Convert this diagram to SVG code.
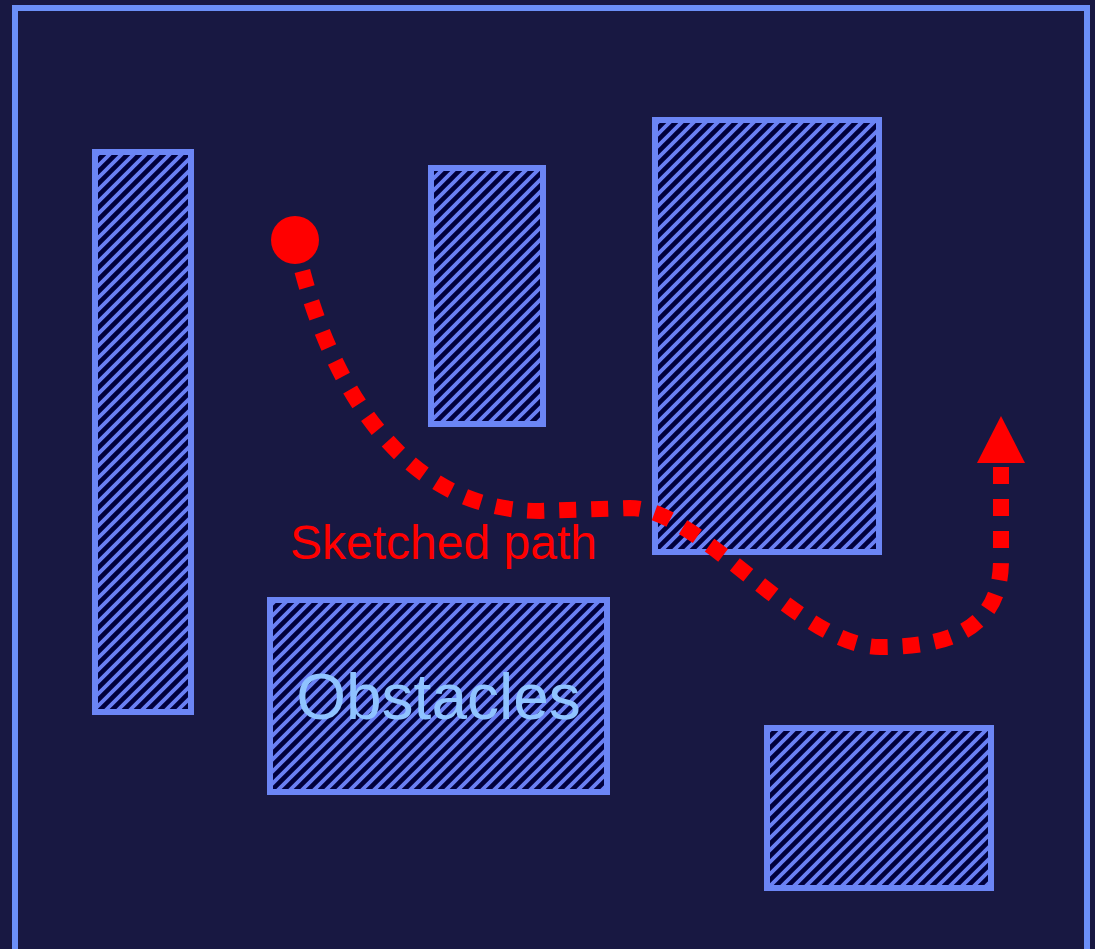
<svg xmlns="http://www.w3.org/2000/svg" width="1095" height="949" viewBox="0 0 1095 949">
  <style>
    .obs { fill: url(#hatch); stroke: #6b85f5; stroke-width: 6; }
    .lbl { font-family: "Liberation Sans", Arial, sans-serif; text-anchor: middle; }
  </style>
  <defs>
    <pattern id="hatch" patternUnits="userSpaceOnUse" width="12" height="12">
      <rect width="12" height="12" fill="#00003c"/>
      <path d="M-3,3 L3,-3 M0,12 L12,0 M9,15 L15,9" stroke="#6a80f4" stroke-width="3.8"/>
    </pattern>
    <marker id="arrow" markerUnits="userSpaceOnUse" markerWidth="48" markerHeight="48" refX="0" refY="24" orient="auto" viewBox="0 0 48 48">
      <path d="M0,0 L47,24 L0,48 Z" fill="#ff0000"/>
    </marker>
  </defs>
  <rect width="1095" height="949" fill="#181842"/>
  <rect x="15" y="8" width="1072" height="960" fill="none" stroke="#6b8ff8" stroke-width="6"/>

  <g id="obstacle-1"><rect class="obs" x="95" y="152" width="96" height="560"/></g>
  <g id="obstacle-2"><rect class="obs" x="431" y="168" width="112" height="256"/></g>
  <g id="obstacle-3"><rect class="obs" x="655" y="120" width="224" height="432"/></g>
  <g id="obstacle-4">
    <rect class="obs" x="270" y="600" width="337" height="192"/>
    <text class="lbl" x="438.5" y="719" font-size="64" fill="#8fc3ff">Obstacles</text>
  </g>
  <g id="obstacle-5"><rect class="obs" x="767" y="728" width="224" height="160"/></g>

  <g id="connectors">
    <path d="M295,240 C320,360 390,511 540,511 L630,508 C700,508 800,647 880,647 C960,647 1001,622 1001,560 L1001,463" fill="none" stroke="#ff0000" stroke-width="16" stroke-dasharray="17 15" marker-end="url(#arrow)"/>
  </g>
  <g id="start"><circle cx="295" cy="240" r="24" fill="#ff0000"/></g>
  <g id="path-label"><text class="lbl" x="443.5" y="559" font-size="48" fill="#ff0000">Sketched path</text></g>
</svg>
